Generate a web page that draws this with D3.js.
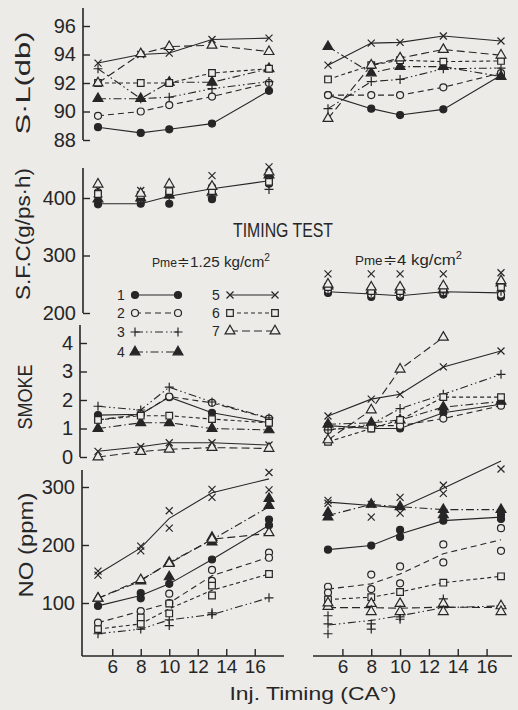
<!DOCTYPE html>
<html>
<head>
<meta charset="utf-8">
<script src="https://cdn.jsdelivr.net/npm/d3@7"></script>
<style>
body { margin: 0; background: #ecebe8; }
svg { display: block; font-family: "Liberation Sans", Arial, sans-serif; }
</style>
</head>
<body>
<div class="chart"></div>
<script>
// ____________________________ data ____________________________

const timing = [5, 8, 10, 13, 17];
const xTicks = [6, 8, 10, 12, 14, 16];
const seriesNames = ["1", "2", "3", "4", "5", "6", "7"];

const slTicks = [88, 90, 92, 94, 96];
const sfcTicks = [200, 300, 400];
const smokeTicks = [0, 1, 2, 3, 4];
const noTicks = [100, 200, 300];

// S.L (db), one row per series 1..7
const slLow = [
    [88.9, 88.5, 88.75, 89.15, 91.45],
    [89.7, 90.0, 90.45, 91.05, 92.0],
    [93.0, 90.9, 91.0, 91.6, 92.1],
    [90.9, 90.9, 92.05, 92.05, 93.0],
    [93.4, 94.0, 94.1, 95.05, 95.15],
    [92.0, 92.0, 92.0, 92.7, 93.0],
    [92.0, 94.05, 94.55, 94.65, 94.2]
];
const slHigh = [
    [91.15, 90.2, 89.75, 90.15, 92.55],
    [91.15, 91.15, 91.15, 91.7, 92.7],
    [90.2, 92.1, 92.25, 93.0, 93.05],
    [94.55, 92.7, 93.15, 93.15, 92.45],
    [93.25, 94.8, 94.85, 95.3, 94.95],
    [92.25, 93.25, 93.6, 93.5, 93.55],
    [89.5, 93.25, 93.75, 94.35, 93.95]
];

// S.F.C (g/ps.h): one fitted line per load, scattered marks per series
const sfcLowLine = [390, 390, 403, 416, 430];
const sfcHighLine = [237, 233, 230, 237, 235];
const sfcLow = [
    [389, 390, 390, 398, 425],
    [410, 398, 410, 419, 432],
    [402, 395, 400, 402, 415],
    [398, 400, 405, 410, 440],
    [416, 413, 415, 439, 454],
    [407, 405, 412, 412, 428],
    [424, 408, 424, 420, 445]
];
const sfcHigh = [
    [235, 228, 228, 232, 228],
    [240, 232, 232, 236, 232],
    [243, 236, 236, 238, 238],
    [247, 240, 240, 240, 252],
    [268, 268, 268, 268, 270],
    [245, 238, 238, 242, 245],
    [250, 245, 245, 247, 256]
];

// SMOKE
const smokeLow = [
    [1.47, 1.5, 2.1, 1.55, 1.2],
    [1.3, 1.5, 2.12, 1.9, 1.35],
    [1.78, 1.65, 2.45, 1.93, 1.37],
    [1.0, 1.2, 1.2, 1.0, 0.95],
    [0.2, 0.36, 0.5, 0.5, 0.42],
    [1.3, 1.45, 1.45, 1.33, 1.2],
    [0.0, 0.19, 0.27, 0.33, 0.3]
];
const smokeHigh = [
    [1.1, 1.0, 1.0, 1.55, 1.85],
    [0.95, 1.1, 1.1, 1.35, 1.8],
    [0.95, 1.15, 1.7, 2.2, 2.9],
    [1.15, 1.2, 1.3, 1.75, 1.95],
    [1.44, 2.03, 2.2, 3.16, 3.72],
    [0.53, 1.0, 1.3, 2.1, 2.1],
    [0.6, 1.65, 3.08, 4.2, null]
];

// NO (ppm): fitted lines and the measured marks at each timing
const noLow = [
    [95, 113, 133, 175, 234],
    [66, 86, 100, 147, 179],
    [47, 55, 71, 80, 109],
    [108, 138, 170, 209, 266],
    [150, 195, 246, 290, 314],
    [55, 64, 90, 122, 150],
    [108, 140, 168, 210, 220]
];
const noLowPts = [
    [[95], [117, 108], [133], [175], [244, 234]],
    [[66], [86], [116, 100], [157, 138], [187, 178]],
    [[47], [55], [71, 61], [80, 83], [109]],
    [[108], [138], [170, 145], [213, 205], [280, 268]],
    [[155, 148], [198, 190], [259, 229], [296, 282], [325, 295]],
    [[55], [75, 64], [99, 82], [130, 113], [150]],
    [[108], [140], [168], [210], [221]]
];
const noHigh = [
    [192, 199, 219, 242, 248],
    [124, 133, 150, 185, 209],
    [62, 70, 78, 92, 95],
    [251, 270, 266, 261, 261],
    [274, 268, 264, 298, 345],
    [106, 110, 119, 135, 146],
    [92, 92, 91, 93, 92]
];
const noHighPts = [
    [[192], [199], [226, 214], [242], [252, 245]],
    [[128, 118], [149, 124], [163, 134], [201, 170], [229, 190]],
    [[78, 64, 47], [64, 55], [72, 76], [107, 92], [95]],
    [[256, 248], [270], [266], [261, 252], [261]],
    [[277, 272], [270, 248], [282, 255], [303, 289], [331]],
    [[106], [110], [119], [135], [146]],
    [[94, 100], [99, 85], [99, 85], [99, 85], [95, 85]]
];

// ____________________________ drawing ____________________________

const width = 518, height = 710;
const ink = "#262626";
const bg = "#ecebe8";

const svg = d3.select(".chart").append("svg")
    .attr("width", width)
    .attr("height", height);

const xL = d3.scaleLinear().domain([5, 17]).range([98, 269]);
const xR = d3.scaleLinear().domain([5, 17]).range([328, 501]);
const ySL = d3.scaleLinear().domain([88, 96]).range([140, 26]);
const ySFC = d3.scaleLinear().domain([200, 400]).range([313, 198]);
const ySm = d3.scaleLinear().domain([0, 4]).range([457, 343]);
const yNO = d3.scaleLinear().domain([0, 300]).range([661, 487]);

const dashes = [null, "6,4", "8,3,1.5,3,1.5,3", "8,3,1.5,3", null, "4,3", "8,4"];

function marker(g, s) {
    g.attr("stroke", ink).attr("stroke-width", 1.2);
    if (s === 0) g.append("circle").attr("r", 3.5).attr("fill", ink);
    if (s === 1) g.append("circle").attr("r", 3.5).attr("fill", bg);
    if (s === 2) g.append("path").attr("d", "M-4.5,0H4.5M0,-4.5V4.5").attr("fill", "none");
    if (s === 3) g.append("path").attr("d", d3.symbol(d3.symbolTriangle, 42)()).attr("fill", ink);
    if (s === 4) g.append("path").attr("d", "M-3.5,-3.5L3.5,3.5M-3.5,3.5L3.5,-3.5").attr("fill", "none");
    if (s === 5) g.append("path").attr("d", d3.symbol(d3.symbolSquare, 44)()).attr("fill", bg);
    if (s === 6) g.append("path").attr("d", d3.symbol(d3.symbolTriangle, 42)()).attr("fill", bg);
}

function drawLines(x, y, rows) {
    const line = d3.line()
        .defined(d => d != null)
        .x((d, i) => x(timing[i]))
        .y(d => y(d));
    svg.append("g")
        .selectAll("path")
        .data(rows)
        .join("path")
        .attr("d", line)
        .attr("fill", "none")
        .attr("stroke", ink)
        .attr("stroke-width", 1.1)
        .attr("stroke-dasharray", (d, i) => dashes[i]);
}

function drawMarks(x, y, rows) {
    // rows[s][i] is a value or a list of values at timing[i]
    const pts = [];
    rows.forEach((row, s) => row.forEach((v, i) => {
        if (v == null) return;
        [].concat(v).forEach(val => pts.push({s: s, t: timing[i], v: val}));
    }));
    svg.append("g")
        .selectAll("g")
        .data(pts)
        .join("g")
        .attr("transform", d => `translate(${x(d.t)},${y(d.v)})`)
        .each(function(d) { marker(d3.select(this), d.s); });
}

function yAxis(scale, ticks, ax, top, bottom) {
    const g = svg.append("g")
        .attr("transform", `translate(${ax},0)`)
        .call(d3.axisLeft(scale).tickValues(ticks).tickFormat(d3.format("d"))
            .tickSizeInner(-7).tickSizeOuter(0).tickPadding(7));
    g.select(".domain").remove();
    g.selectAll(".tick line").attr("stroke", ink).attr("stroke-width", 1.4);
    g.selectAll(".tick text").attr("fill", ink).attr("font-size", 20)
        .attr("font-family", "Liberation Sans, Arial, sans-serif");
    g.append("line")
        .attr("y1", top).attr("y2", bottom)
        .attr("stroke", ink).attr("stroke-width", 1.6);
}

function xAxis(scale, x1, x2, ay) {
    const g = svg.append("g")
        .attr("transform", `translate(0,${ay})`)
        .call(d3.axisBottom(scale).tickValues(xTicks).tickSizeInner(-7).tickSizeOuter(0).tickPadding(3));
    g.select(".domain").remove();
    g.selectAll(".tick line").attr("stroke", ink).attr("stroke-width", 1.4);
    g.selectAll(".tick text").attr("fill", ink).attr("font-size", 19)
        .attr("font-family", "Liberation Sans, Arial, sans-serif");
    g.append("line")
        .attr("x1", x1).attr("x2", x2)
        .attr("stroke", ink).attr("stroke-width", 1.6);
}

function yLabel(txt, cx, cy, len, size) {
    svg.append("text")
        .attr("transform", `translate(${cx},${cy}) rotate(-90)`)
        .attr("text-anchor", "middle")
        .attr("dominant-baseline", "central")
        .attr("font-size", size)
        .attr("fill", ink)
        .attr("textLength", len)
        .attr("lengthAdjust", "spacingAndGlyphs")
        .text(txt);
}

// S.L panel
yAxis(ySL, slTicks, 83, 8, 140);
drawLines(xL, ySL, slLow);
drawLines(xR, ySL, slHigh);
drawMarks(xL, ySL, slLow);
drawMarks(xR, ySL, slHigh);
yLabel("S·L(db)", 22, 83, 103, 21);

// S.F.C panel
yAxis(ySFC, sfcTicks, 83, 168, 313);
drawLines(xL, ySFC, [sfcLowLine]);
drawLines(xR, ySFC, [sfcHighLine]);
drawMarks(xL, ySFC, sfcLow);
drawMarks(xR, ySFC, sfcHigh);
yLabel("S.F.C(g/ps·h)", 22, 234, 132, 21);

// SMOKE panel
yAxis(ySm, smokeTicks, 80, 325, 457);
drawLines(xL, ySm, smokeLow);
drawLines(xR, ySm, smokeHigh);
drawMarks(xL, ySm, smokeLow);
drawMarks(xR, ySm, smokeHigh);
yLabel("SMOKE", 24, 397, 65, 21);

// NO panel
yAxis(yNO, noTicks, 82, 470, 656);
xAxis(xL, 82, 284, 656);
xAxis(xR, 313, 512, 656);
drawLines(xL, yNO, noLow);
drawLines(xR, yNO, noHigh);
drawMarks(xL, yNO, noLowPts);
drawMarks(xR, yNO, noHighPts);
yLabel("NO (ppm)", 25, 545, 105, 21);

svg.append("text")
    .attr("x", 313).attr("y", 700)
    .attr("text-anchor", "middle")
    .attr("font-size", 19)
    .attr("fill", ink)
    .attr("textLength", 167)
    .attr("lengthAdjust", "spacingAndGlyphs")
    .text("Inj. Timing (CA°)");

// titles
svg.append("text")
    .attr("x", 283).attr("y", 237)
    .attr("text-anchor", "middle")
    .attr("font-size", 20)
    .attr("fill", ink)
    .attr("textLength", 100)
    .attr("lengthAdjust", "spacingAndGlyphs")
    .text("TIMING TEST");

function loadTitle(x, y, val, len) {
    const t = svg.append("text")
        .attr("x", x).attr("y", y)
        .attr("fill", ink)
        .attr("textLength", len)
        .attr("lengthAdjust", "spacingAndGlyphs");
    t.append("tspan").attr("font-size", 12).text("Pme");
    t.append("tspan").attr("font-size", 15).text("≑" + val + " kg/cm");
    t.append("tspan").attr("font-size", 10).attr("dy", -6).text("2");
}
loadTitle(152, 267, "1.25", 118);
loadTitle(355, 265, "4", 107);

// legend
const legendRows = [
    [117, 135, 178, 295], [117, 135, 178, 313], [117, 135, 178, 332], [117, 135, 178, 352],
    [212, 230, 275, 295], [212, 230, 275, 313], [212, 230, 275, 331]
];
const legend = svg.append("g")
    .selectAll("g")
    .data(seriesNames)
    .join("g");
legend.append("text")
    .attr("x", (d, i) => legendRows[i][0])
    .attr("y", (d, i) => legendRows[i][3])
    .attr("dominant-baseline", "central")
    .attr("font-size", 14)
    .attr("fill", ink)
    .text(d => d);
legend.append("line")
    .attr("x1", (d, i) => legendRows[i][1])
    .attr("x2", (d, i) => legendRows[i][2])
    .attr("y1", (d, i) => legendRows[i][3])
    .attr("y2", (d, i) => legendRows[i][3])
    .attr("stroke", ink)
    .attr("stroke-width", 1.2)
    .attr("stroke-dasharray", (d, i) => dashes[i]);
legend.each(function(d, i) {
    const r = legendRows[i];
    marker(d3.select(this).append("g").attr("transform", `translate(${r[1]},${r[3]})`), i);
    marker(d3.select(this).append("g").attr("transform", `translate(${r[2]},${r[3]})`), i);
});
</script>
</body>
</html>
